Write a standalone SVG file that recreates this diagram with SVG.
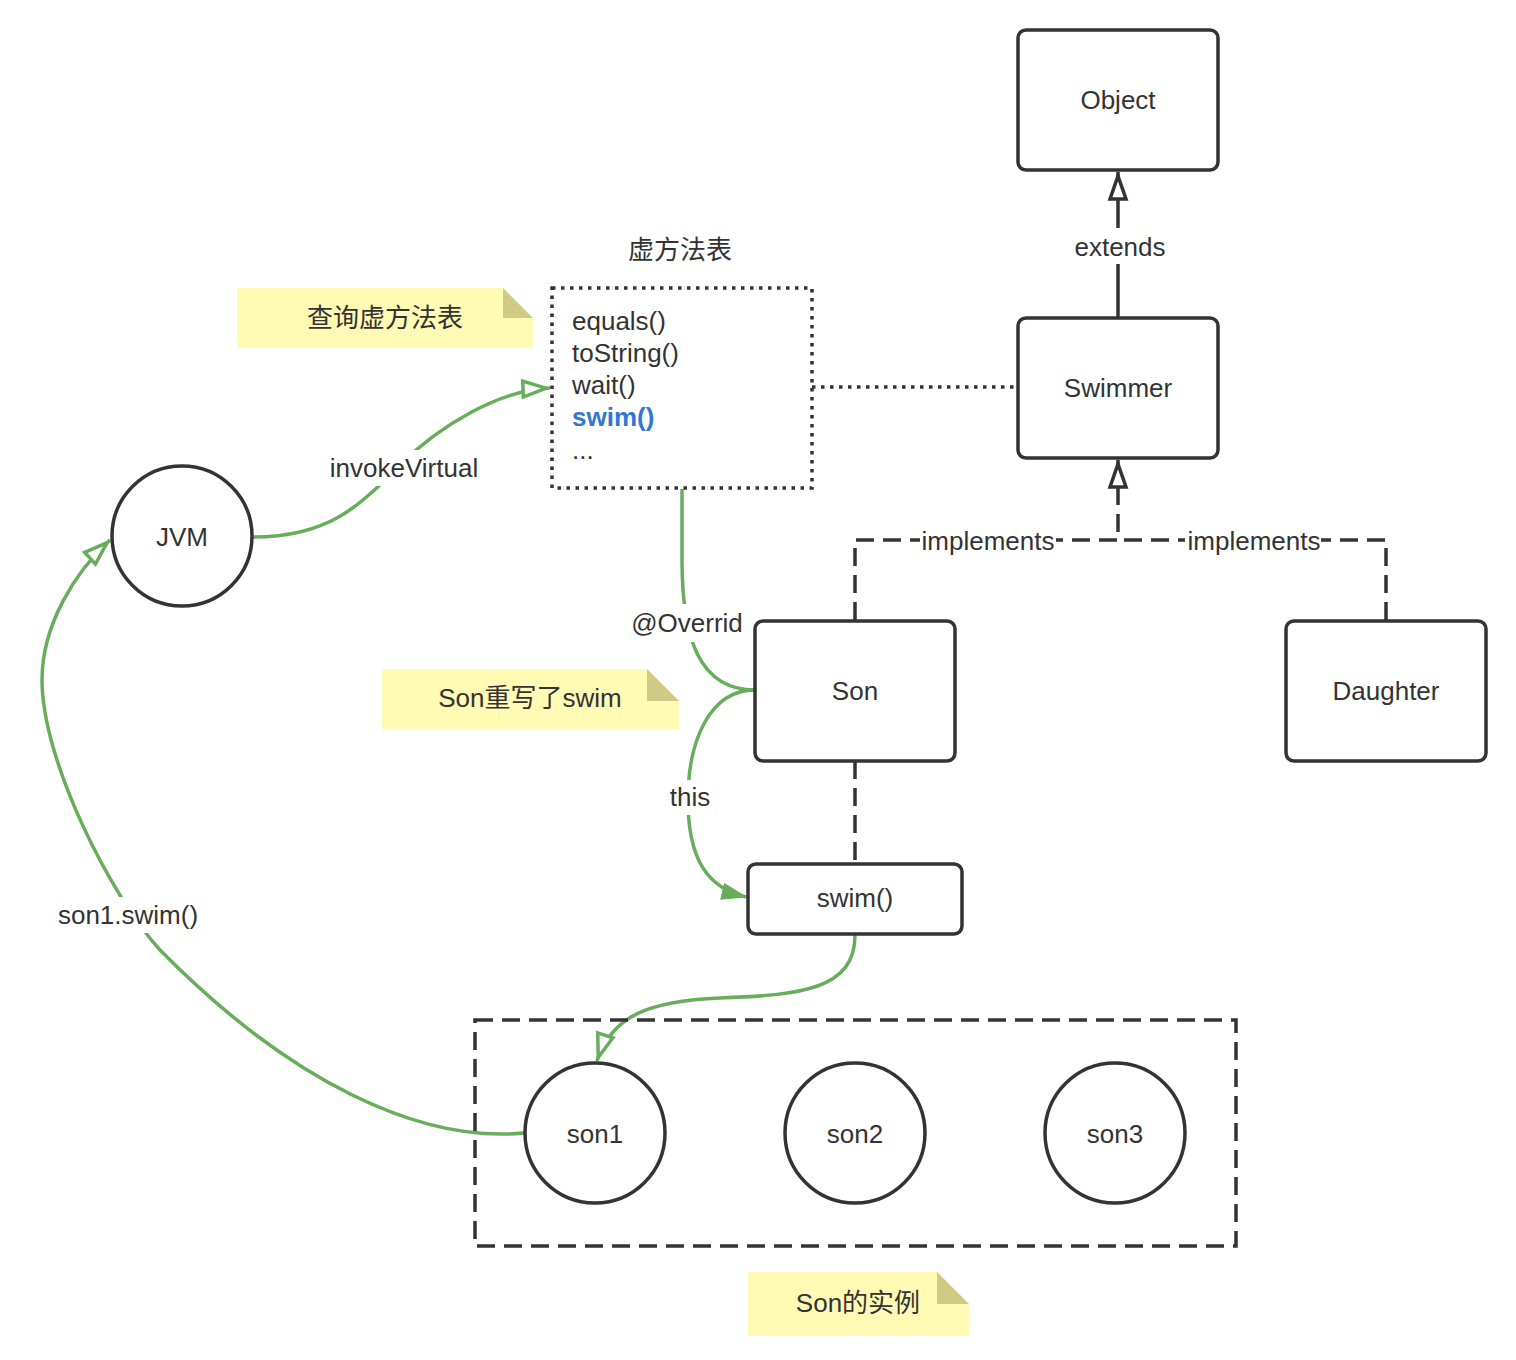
<svg xmlns="http://www.w3.org/2000/svg" width="1516" height="1360" viewBox="0 0 1516 1360">
<style>
text{font-family:"Liberation Sans","Noto Sans CJK SC",sans-serif;font-size:26px;fill:#333333}
.c{text-anchor:middle;dominant-baseline:central}
.node{fill:#ffffff;stroke:#333333;stroke-width:3.5}
.dark{fill:none;stroke:#333333;stroke-width:3.5}
.dash{stroke-dasharray:18 9}
.dot{stroke-dasharray:3.5 5.5}
.green{fill:none;stroke:#67ad5b;stroke-width:3.5}
.lbl{fill:#ffffff;stroke:none}
.note{fill:#fffab4}
.fold{fill:#cfcb86}
</style>
<defs>
<marker id="hollowDark" markerUnits="userSpaceOnUse" viewBox="0 0 34 22" markerWidth="34" markerHeight="22" refX="30" refY="11" orient="auto">
<path d="M3,3 L26,11 L3,19 Z" fill="#ffffff" stroke="#333333" stroke-width="3.5"/>
</marker>
<marker id="hollowGreen" markerUnits="userSpaceOnUse" viewBox="0 0 34 22" markerWidth="34" markerHeight="22" refX="30" refY="11" orient="auto">
<path d="M3,3 L26,11 L3,19 Z" fill="#ffffff" stroke="#67ad5b" stroke-width="3.5"/>
</marker>
<marker id="filledGreen" markerUnits="userSpaceOnUse" viewBox="0 0 30 20" markerWidth="30" markerHeight="20" refX="26" refY="10" orient="auto">
<path d="M2,2 L26,10 L2,18 Z" fill="#67ad5b" stroke="#67ad5b" stroke-width="1"/>
</marker>
</defs>
<rect width="1516" height="1360" fill="#ffffff"/>

<g id="connectors">
<path class="dark" d="M1118 318 L1118 172" marker-end="url(#hollowDark)"/>
<path class="dark dash" d="M855 620 L855 540 L1118 540 L1118 460" marker-end="url(#hollowDark)"/>
<path class="dark dash" d="M1386 620 L1386 540 L1118 540"/>
<path class="dark dot" d="M812 387 L1018 387"/>
<path class="dark dash" d="M855 761 L855 864"/>
<path class="green" d="M253 537 C330 537, 360 505, 400 465 C440 425, 500 390, 550 388" marker-end="url(#hollowGreen)"/>
<path class="green" d="M682 489 L682 560 C682 640, 700 690, 755 690"/>
<path class="green" d="M755 690 C710 690, 688 740, 688 800 C688 860, 708 888, 746 897" marker-end="url(#filledGreen)"/>
<path class="green" d="M855 935 C855 990, 800 995, 720 998 C650 1001, 612 1015, 597 1061" marker-end="url(#hollowGreen)"/>
<path class="green" d="M524 1133 C420 1143, 290 1082, 160 950 C110 895, 42 760, 42 680 C42 625, 75 572, 110 540" marker-end="url(#hollowGreen)"/>
<rect class="lbl" x="1073" y="228" width="94" height="36"/>
<rect class="lbl" x="920" y="527" width="136" height="28"/>
<rect class="lbl" x="1185" y="527" width="136" height="28"/>
<rect class="lbl" x="328" y="450" width="152" height="36"/>
<rect class="lbl" x="631" y="604" width="113" height="38"/>
<rect class="lbl" x="669" y="780" width="42" height="35"/>
<rect class="lbl" x="57" y="897" width="142" height="36"/>
<text class="c" x="1120" y="247">extends</text>
<text class="c" x="988" y="541">implements</text>
<text class="c" x="1254" y="541">implements</text>
<text class="c" x="404" y="468">invokeVirtual</text>
<text class="c" x="687" y="623">@Overrid</text>
<text class="c" x="690" y="797">this</text>
<text class="c" x="128" y="915">son1.swim()</text>
</g>

<g id="object"><rect class="node" x="1018" y="30" width="200" height="140" rx="8"/><text class="c" x="1118" y="100">Object</text></g>
<g id="swimmer"><rect class="node" x="1018" y="318" width="200" height="140" rx="8"/><text class="c" x="1118" y="388">Swimmer</text></g>
<g id="son"><rect class="node" x="755" y="621" width="200" height="140" rx="8"/><text class="c" x="855" y="691">Son</text></g>
<g id="daughter"><rect class="node" x="1286" y="621" width="200" height="140" rx="8"/><text class="c" x="1386" y="691">Daughter</text></g>
<g id="swim"><rect class="node" x="748" y="864" width="214" height="70" rx="8"/><text class="c" x="855" y="898">swim()</text></g>
<g id="jvm"><circle class="node" cx="182" cy="536" r="70"/><text class="c" x="182" y="537">JVM</text></g>

<g id="vtable">
<text class="c" x="680" y="250">虚方法表</text>
<rect class="dark dot" x="552" y="288" width="260" height="200"/>
<text x="572" y="330">equals()</text>
<text x="572" y="362">toString()</text>
<text x="572" y="394">wait()</text>
<text x="572" y="426" style="fill:#3277d0;font-weight:bold">swim()</text>
<text x="572" y="459">...</text>
</g>

<g id="instances">
<rect class="dark dash" x="475" y="1020" width="761" height="226"/>
</g>
<g id="son1"><circle class="node" cx="595" cy="1133" r="70"/><text class="c" x="595" y="1134">son1</text></g>
<g id="son2"><circle class="node" cx="855" cy="1133" r="70"/><text class="c" x="855" y="1134">son2</text></g>
<g id="son3"><circle class="node" cx="1115" cy="1133" r="70"/><text class="c" x="1115" y="1134">son3</text></g>

<g id="note-query">
<path class="note" d="M237 288 L503 288 L533 318 L533 348 L237 348 Z"/>
<path class="fold" d="M503 288 L503 318 L533 318 Z"/>
<text class="c" x="385" y="318">查询虚方法表</text>
</g>
<g id="note-override">
<path class="note" d="M382 669 L647 669 L679 701 L679 729 L382 729 Z"/>
<path class="fold" d="M647 669 L647 701 L679 701 Z"/>
<text class="c" x="530" y="698">Son重写了swim</text>
</g>
<g id="note-instance">
<path class="note" d="M748 1272 L937 1272 L969 1304 L969 1336 L748 1336 Z"/>
<path class="fold" d="M937 1272 L937 1304 L969 1304 Z"/>
<text class="c" x="858" y="1303">Son的实例</text>
</g>
</svg>
